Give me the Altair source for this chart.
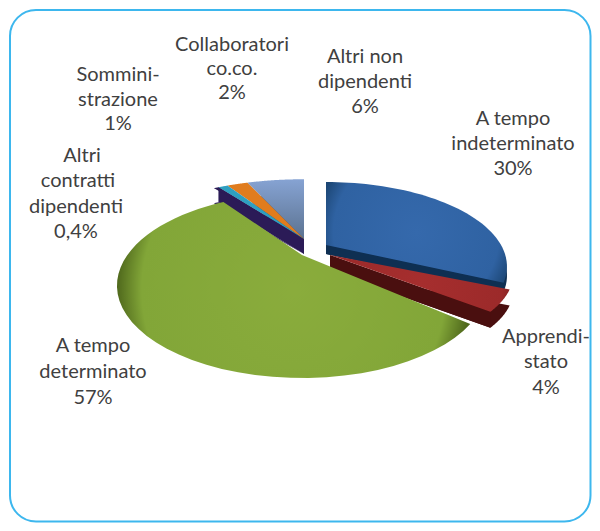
import altair as alt
import numpy as np
import pandas as pd

# Slice names, labelled values, and slice shares as drawn in the picture (clockwise from 12 o'clock)
names = ["A tempo indeterminato", "Apprendistato", "A tempo determinato",
         "Altri contratti dipendenti", "Somministrazione", "Collaboratori co.co.", "Altri non dipendenti"]
label_values = ["30%", "4%", "57%", "0,4%", "1%", "2%", "6%"]
drawn_share = [32.0, 4.4, 53.9, 0.5, 1.0, 2.2, 6.0]

# perspective-pie geometry per slice: apex x, apex y, A, B, p, wall depth
geom = {
    "A tempo indeterminato": (326, 245, 175, 79, .255, 9),
    "Apprendistato": (330, 255, 177, 72, .255, 16),
    "A tempo determinato": (302, 255, 174.6, 82.3, .331, 0),
    "Altri contratti dipendenti": (304, 239, 190, 75, .255, 15),
    "Somministrazione": (304, 239, 190, 75, .255, 15),
    "Collaboratori co.co.": (304, 239, 190, 75, .255, 15),
    "Altri non dipendenti": (304, 239, 190, 75, .255, 15),
}

def sector(theta0, theta1, g, dy=0.0):
    ax, ay, A, B, p = g[:5]
    t = np.radians(np.linspace(theta0, theta1, 50))
    u, v = np.cos(t), np.sin(t)
    w = 1 + p * v
    xs = np.concatenate([[ax], ax + A * u / w])
    ys = np.concatenate([[ay], ay - B * v / w]) + dy
    return xs, ys

total = sum(drawn_share)
angle = 90.0
rows = []
for n, s in zip(names, drawn_share):
    end = angle - 360 * s / total
    xs, ys = sector(angle, end, geom[n])
    rows += [dict(part=n, i=i, x=a, y=b) for i, (a, b) in enumerate(zip(xs, ys))]
    d = geom[n][5]
    # radial face at the end of the sector
    fx = [xs[0], xs[-1], xs[-1], xs[0]]
    fy = [ys[0], ys[-1], ys[-1] + d, ys[0] + d]
    rows += [dict(part=n + " face", i=i, x=a, y=b) for i, (a, b) in enumerate(zip(fx, fy))]
    xs, ys = sector(angle, end, geom[n], d)
    rows += [dict(part=n + " wall", i=i, x=a, y=b) for i, (a, b) in enumerate(zip(xs, ys))]
    angle = end
poly = pd.DataFrame(rows)

def radial(inner, mid, edge, m=.82, r2=.56):
    return alt.RadialGradient(gradient="radial", x1=.5, y1=.5, r1=0, x2=.5, y2=.5, r2=r2,
                              stops=[alt.GradientStop(offset=0, color=inner),
                                     alt.GradientStop(offset=m, color=mid),
                                     alt.GradientStop(offset=1, color=edge)])

def linear(top, bottom):
    return alt.LinearGradient(gradient="linear", x1=0, y1=0, x2=0, y2=1,
                              stops=[alt.GradientStop(offset=0, color=top),
                                     alt.GradientStop(offset=1, color=bottom)])

xs_scale = alt.Scale(domain=[8, 592], nice=False, zero=False)
ys_scale = alt.Scale(domain=[523, 8], nice=False, zero=False)

def shape(part, fill):
    return alt.Chart(poly[poly.part == part]).mark_line(
        fill=fill, stroke="transparent", strokeWidth=0, interpolate="linear"
    ).encode(
        x=alt.X("x:Q", scale=xs_scale, axis=None),
        y=alt.Y("y:Q", scale=ys_scale, axis=None),
        order="i:Q",
    )

layers = [
    shape("Altri non dipendenti wall", "#3F4A5E"),
    shape("Altri contratti dipendenti wall", "#2B1B57"),
    shape("Altri contratti dipendenti face", "#2B1B57"),
    shape("Altri non dipendenti", linear("#86A3D3", "#5B7290")),
    shape("Collaboratori co.co.", "#E07C1E"),
    shape("Somministrazione", "#2E9FC0"),
    shape("Altri contratti dipendenti", "#2B1B57"),
    shape("A tempo indeterminato wall", "#0E2F52"),
    shape("A tempo indeterminato face", "#0E2F52"),
    shape("A tempo indeterminato", radial("#3569AC", "#2F62A2", "#1C4674")),
    shape("Apprendistato wall", "#4A0F0F"),
    shape("Apprendistato face", "#4A0F0F"),
    shape("Apprendistato", radial("#A62E2E", "#9C2A2A", "#6E1B1B")),
    shape("A tempo determinato", radial("#8AAC3C", "#82A638", "#4F681C", .86, .5)),
]

# Frame
frame = pd.DataFrame({"x": [10], "x2": [590.5], "y": [10], "y2": [521.5]})
frame_layer = alt.Chart(frame).mark_rect(
    fill="white", stroke="#3DB7EE", strokeWidth=2, cornerRadius=26
).encode(
    x=alt.X("x:Q", scale=xs_scale, axis=None), x2="x2:Q",
    y=alt.Y("y:Q", scale=ys_scale, axis=None), y2="y2:Q",
)

# Label lines and their layout
label_lines = ["Collaboratori", "co.co.", "2%",
               "Altri non", "dipendenti", "6%",
               "Sommini-", "strazione", "1%",
               "A tempo", "indeterminato", "30%",
               "Altri", "contratti", "dipendenti", "0,4%",
               "Apprendi-", "stato", "4%",
               "A tempo", "determinato", "57%"]
label_x = [232, 232, 232, 365, 365, 365, 118, 118, 118, 513, 513, 513,
           82, 78, 76, 76, 546, 546, 546, 93, 93, 93]
label_y = [45, 69, 93, 57, 82, 107, 75, 100, 124, 119, 144, 169,
           156, 181, 207, 232, 337, 362, 388, 346, 372, 398]
labels = pd.DataFrame({"t": label_lines, "x": label_x, "y": label_y})
text_layer = alt.Chart(labels).mark_text(
    font="Lato", fontSize=20, color="#404040", align="center", baseline="middle"
).encode(
    x=alt.X("x:Q", scale=xs_scale, axis=None),
    y=alt.Y("y:Q", scale=ys_scale, axis=None),
    text="t:N",
)

chart = alt.layer(frame_layer, *layers, text_layer).properties(
    width=584, height=515, padding=0, background="white",
    autosize=alt.AutoSizeParams(type="none"),
).configure_view(stroke=None)

chart.save("out.html", embed_options={"renderer": "svg", "actions": False})
